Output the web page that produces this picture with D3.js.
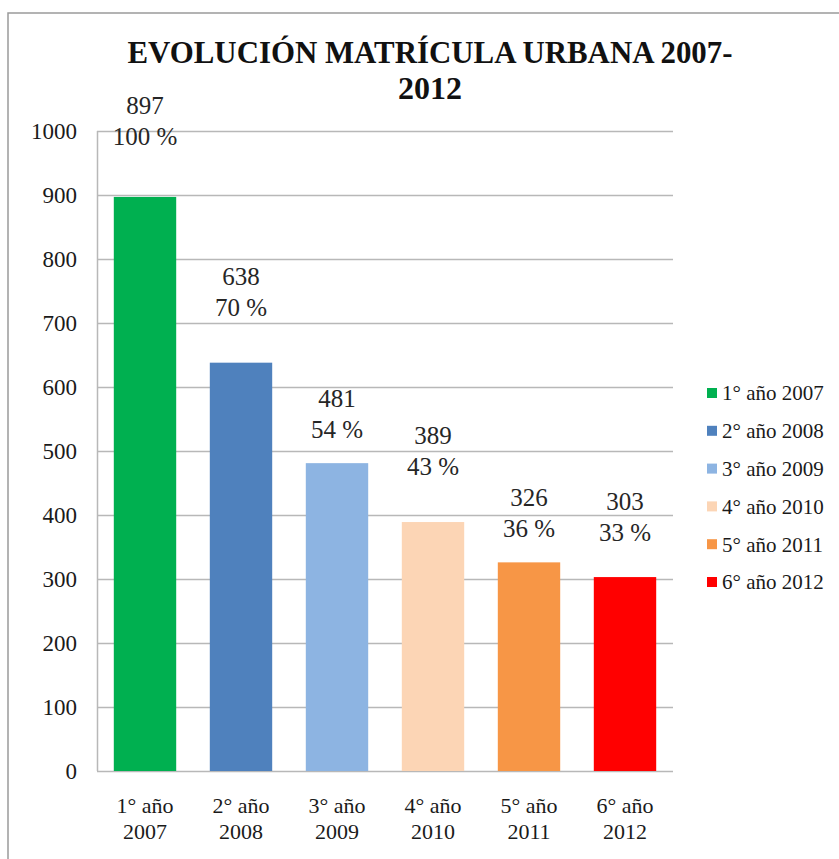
<!DOCTYPE html>
<html>
<head>
<meta charset="utf-8">
<script src="https://cdn.jsdelivr.net/npm/d3@7"></script>
<style>
  html, body { margin: 0; padding: 0; background: #fff; }
  svg { display: block; }
  text { font-family: "Liberation Serif", "Times New Roman", serif; }
</style>
</head>
<body>
<svg id="chart" width="839" height="859"></svg>
<script>
// ---- data ----
const categories = ["1° año 2007", "2° año 2008", "3° año 2009", "4° año 2010", "5° año 2011", "6° año 2012"];
const axisLine1 = ["1° año", "2° año", "3° año", "4° año", "5° año", "6° año"];
const axisLine2 = ["2007", "2008", "2009", "2010", "2011", "2012"];
const values = [897, 638, 481, 389, 326, 303];
const percents = ["100 %", "70 %", "54 %", "43 %", "36 %", "33 %"];
const yTicks = [0, 100, 200, 300, 400, 500, 600, 700, 800, 900, 1000];
const titleLines = ["EVOLUCIÓN MATRÍCULA URBANA 2007-", "2012"];

// ---- styling / layout (not data) ----
const colors = ["#00B050", "#4F81BD", "#8DB4E2", "#FCD5B5", "#F79646", "#FF0000"];
const labelLift = [61, 55, 34, 56, 34, 45]; // px gap between bar top and percent line (manually placed labels)

const svg = d3.select("#chart");
const plot = { left: 97, right: 673, top: 131, bottom: 771 };

// border
svg.append("rect")
  .attr("x", 8).attr("y", 13)
  .attr("width", 860).attr("height", 880)
  .attr("fill", "none").attr("stroke", "#9a9a9a").attr("stroke-width", 1.5);

const x = d3.scaleBand()
  .domain(categories)
  .range([plot.left, plot.right])
  .paddingInner(0.35)
  .paddingOuter(0.175);

const y = d3.scaleLinear().domain([0, 1000]).range([plot.bottom, plot.top]);

// gridlines
svg.append("g").selectAll("line").data(yTicks).join("line")
  .attr("x1", plot.left).attr("x2", plot.right)
  .attr("y1", d => Math.round(y(d)) + 0.5).attr("y2", d => Math.round(y(d)) + 0.5)
  .attr("stroke", "#b8b8b8").attr("stroke-width", 1.5);

// y axis line
svg.append("line")
  .attr("x1", plot.left + 0.5).attr("x2", plot.left + 0.5)
  .attr("y1", y(1000)).attr("y2", y(0))
  .attr("stroke", "#b8b8b8").attr("stroke-width", 1.5);

// y tick labels
svg.append("g").selectAll("text").data(yTicks).join("text")
  .attr("x", 77).attr("y", d => y(d))
  .attr("dy", "0.35em")
  .attr("text-anchor", "end")
  .attr("font-size", 23)
  .attr("fill", "#1a1a1a")
  .text(d => d);

// bars
svg.append("g").selectAll("rect").data(values).join("rect")
  .attr("x", (d, i) => x(categories[i]))
  .attr("width", x.bandwidth())
  .attr("y", d => y(d))
  .attr("height", d => y(0) - y(d))
  .attr("fill", (d, i) => colors[i]);

// data labels
const lab = svg.append("g");
values.forEach((v, i) => {
  const cx = x(categories[i]) + x.bandwidth() / 2;
  const py = y(v) - labelLift[i];
  lab.append("text")
    .attr("x", cx).attr("y", py - 31).attr("dy", "0.35em")
    .attr("text-anchor", "middle").attr("font-size", 25).attr("fill", "#262626")
    .text(v);
  lab.append("text")
    .attr("x", cx).attr("y", py).attr("dy", "0.35em")
    .attr("text-anchor", "middle").attr("font-size", 25).attr("fill", "#262626")
    .text(percents[i]);
});

// x category labels
const xl = svg.append("g");
categories.forEach((c, i) => {
  const cx = x(c) + x.bandwidth() / 2;
  xl.append("text").attr("x", cx).attr("y", 805).attr("dy", "0.35em")
    .attr("text-anchor", "middle").attr("font-size", 22).attr("fill", "#1a1a1a")
    .text(axisLine1[i]);
  xl.append("text").attr("x", cx).attr("y", 831).attr("dy", "0.35em")
    .attr("text-anchor", "middle").attr("font-size", 22).attr("fill", "#1a1a1a")
    .text(axisLine2[i]);
});

// title
svg.append("text")
  .attr("x", 430).attr("y", 52).attr("dy", "0.35em")
  .attr("text-anchor", "middle").attr("font-size", 32).attr("font-weight", "bold")
  .attr("textLength", 605).attr("lengthAdjust", "spacingAndGlyphs")
  .attr("fill", "#111")
  .text(titleLines[0]);
svg.append("text")
  .attr("x", 430).attr("y", 88).attr("dy", "0.35em")
  .attr("text-anchor", "middle").attr("font-size", 32).attr("font-weight", "bold")
  .attr("fill", "#111")
  .text(titleLines[1]);

// legend
const lg = svg.append("g");
categories.forEach((c, i) => {
  const cy = 393 + i * 37.8;
  lg.append("rect").attr("x", 707).attr("y", cy - 5).attr("width", 10).attr("height", 10)
    .attr("fill", colors[i]);
  lg.append("text").attr("x", 722).attr("y", cy).attr("dy", "0.35em")
    .attr("font-size", 21).attr("fill", "#1a1a1a")
    .text(c);
});
</script>
</body>
</html>
